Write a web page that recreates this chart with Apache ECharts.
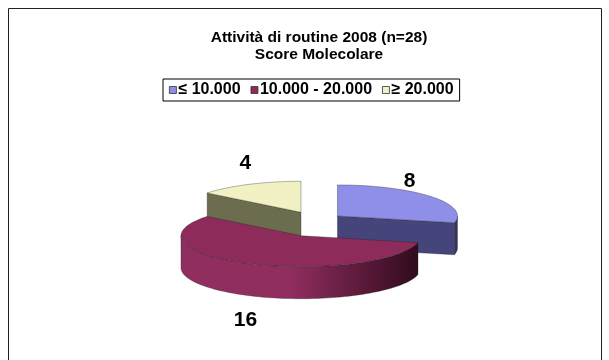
<!DOCTYPE html>
<html>
<head>
<meta charset="utf-8">
<script src="https://cdn.jsdelivr.net/npm/echarts@6/dist/echarts.min.js"></script>
<style>
  html, body { margin: 0; padding: 0; background: #fff; }
  #chart { width: 609px; height: 360px; }
</style>
</head>
<body>
<div id="chart"></div>
<script>
// Data
const categories = ['≤ 10.000', '10.000 - 20.000', '≥ 20.000'];
const values = [8, 16, 4];
const titleLines = ['Attività di routine 2008 (n=28)', 'Score Molecolare'];

// Slice colours: top face, cut face, side gradient (light -> dark)
const topColors = ['#8f8fe9', '#8d2b5b', '#f1f1c3'];
const cutColors = ['#45457b', '#4a1530', '#6c6c4f'];
const sideLight = ['#4e4e88', '#912e60', '#8a8a66'];
const sideDark = ['#33335d', '#2f0a1b', '#4a4a35'];

// Pie geometry in pixels (tilted view: ry is the foreshortened radius)
const PIE = { cx: 314, cy: 224, rx: 120, ry: 31, depth: 32,
              explodeX: 30, explodeY: 13, labelX: 105, labelY: 55, labelShiftX: -10 };
const FONT = '"Liberation Sans", Arial, Helvetica, sans-serif';

const total = values.reduce((a, b) => a + b, 0);
const starts = [];
values.reduce((acc, v) => { starts.push(acc / total * Math.PI * 2); return acc + v; }, 0);

function arcPoints(ax, ay, a0, a1, dy) {
  const pts = [];
  const n = Math.max(2, Math.ceil((a1 - a0) / (Math.PI / 90)));
  for (let k = 0; k <= n; k++) {
    const t = a0 + (a1 - a0) * k / n;
    pts.push([ax + PIE.rx * Math.sin(t), ay - PIE.ry * Math.cos(t) + dy]);
  }
  return pts;
}

function makeSlice(i) {
  return function (params, api) {
    const v = api.value(0);
    const a0 = starts[i];
    const a1 = a0 + v / total * Math.PI * 2;
    const mid = (a0 + a1) / 2;
    const ax = PIE.cx + PIE.explodeX * Math.sin(mid);
    const ay = PIE.cy - PIE.explodeY * Math.cos(mid);
    const h = PIE.depth;
    const zBase = Math.round(-Math.cos(mid) * 100) * 4;
    const stroke = 'rgba(30,30,30,0.55)';
    const children = [];

    // outer wall, only the part that faces the viewer
    const t0 = Math.max(a0, Math.PI / 2);
    const t1 = Math.min(a1, Math.PI * 3 / 2);
    if (t1 > t0) {
      const top = arcPoints(ax, ay, t0, t1, 0);
      const bottom = arcPoints(ax, ay, t0, t1, h).reverse();
      children.push({
        type: 'polygon', z2: zBase,
        shape: { points: top.concat(bottom) },
        style: {
          fill: { type: 'linear', x: ax - PIE.rx, y: 0, x2: ax + PIE.rx, y2: 0, global: true,
                  colorStops: [{ offset: 0, color: sideLight[i] }, { offset: 0.45, color: sideLight[i] },
                               { offset: 1, color: sideDark[i] }] },
          stroke: stroke, lineWidth: 0.6
        }
      });
    }

    // radial cut faces visible from the front
    const cut = (ang) => {
      const rim = [ax + PIE.rx * Math.sin(ang), ay - PIE.ry * Math.cos(ang)];
      children.push({
        type: 'polygon', z2: zBase + 1,
        shape: { points: [[ax, ay], rim, [rim[0], rim[1] + h], [ax, ay + h]] },
        style: { fill: cutColors[i], stroke: stroke, lineWidth: 0.6 }
      });
    };
    if (Math.sin(a0) < -1e-6) cut(a0);
    if (Math.sin(a1) > 1e-6) cut(a1);

    // top face
    children.push({
      type: 'polygon', z2: zBase + 2,
      shape: { points: [[ax, ay]].concat(arcPoints(ax, ay, a0, a1, 0)) },
      style: { fill: topColors[i], stroke: stroke, lineWidth: 0.6 }
    });

    // value label
    const front = Math.cos(mid) < 0 ? h + 3 : 0;
    children.push({
      type: 'text', z2: 2000,
      x: ax + PIE.labelX * Math.sin(mid) + PIE.labelShiftX,
      y: ay - PIE.labelY * Math.cos(mid) + front,
      style: { text: String(v), fill: '#000', font: 'bold 21px ' + FONT,
               align: 'center', verticalAlign: 'middle' }
    });

    return { type: 'group', children: children };
  };
}

const chart = echarts.init(document.getElementById('chart'), null, { renderer: 'canvas' });
chart.setOption({
  animation: false,
  backgroundColor: '#fff',
  title: {
    text: titleLines.join('\n'),
    left: 314, top: 24, textAlign: 'center',
    textStyle: { fontFamily: FONT, fontSize: 15.5, fontWeight: 'bold', color: '#000', lineHeight: 17 }
  },
  legend: {
    top: 79, left: 163,
    data: categories,
    icon: 'rect', itemWidth: 7, itemHeight: 7, itemGap: 10,
    padding: [3, 6, 3, 6],
    borderColor: '#000', borderWidth: 1, borderRadius: 0,
    backgroundColor: '#fff',
    selectedMode: false,
    itemStyle: { borderColor: '#333', borderWidth: 0.8 },
    textStyle: { fontFamily: FONT, fontSize: 16, fontWeight: 'bold', color: '#000', padding: [0, 0, 0, -3] }
  },
  graphic: [{
    type: 'rect', silent: true, z: -1,
    shape: { x: 8.5, y: 8.5, width: 593, height: 400 },
    style: { fill: 'none', stroke: '#222', lineWidth: 1 }
  }],
  series: categories.map((name, i) => ({
    type: 'custom',
    name: name,
    coordinateSystem: 'none',
    color: topColors[i],
    data: [values[i]],
    renderItem: makeSlice(i),
    silent: true
  }))
});
</script>
</body>
</html>
